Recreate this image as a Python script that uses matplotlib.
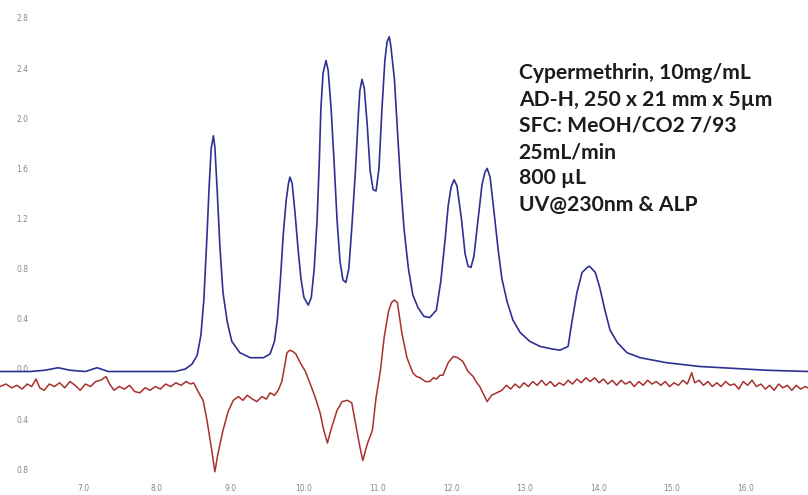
import matplotlib.pyplot as plt

# UV trace (blue), time in min, absorbance
uv_time = [5.87, 6.28, 6.48, 6.66, 6.82, 7.03, 7.19, 7.34, 7.77, 8.25, 8.39, 8.48, 8.55, 8.60,
           8.64, 8.68, 8.71, 8.74, 8.77, 8.79, 8.82, 8.86, 8.90, 8.96, 9.02, 9.13, 9.27, 9.45,
           9.54, 9.60, 9.64, 9.68, 9.72, 9.76, 9.79, 9.81, 9.84, 9.88, 9.92, 9.96, 10.00, 10.06,
           10.10, 10.14, 10.18, 10.21, 10.23, 10.26, 10.30, 10.33, 10.37, 10.41, 10.45, 10.49,
           10.53, 10.57, 10.61, 10.65, 10.70, 10.74, 10.76, 10.79, 10.82, 10.86, 10.90, 10.94,
           10.98, 11.02, 11.06, 11.10, 11.13, 11.16, 11.18, 11.23, 11.27, 11.31, 11.36, 11.42,
           11.48, 11.55, 11.63, 11.71, 11.80, 11.86, 11.92, 11.96, 12.00, 12.04, 12.08, 12.14,
           12.19, 12.23, 12.27, 12.31, 12.37, 12.42, 12.46, 12.49, 12.53, 12.58, 12.64, 12.69,
           12.76, 12.84, 12.94, 13.07, 13.21, 13.37, 13.48, 13.59, 13.64, 13.71, 13.78, 13.85,
           13.88, 13.96, 14.02, 14.09, 14.16, 14.26, 14.39, 14.57, 14.93, 15.38, 16.29, 16.85]
uv_abs = [-0.02, -0.02, -0.01, 0.01, -0.01, -0.02, 0.01, -0.02, -0.02, -0.02, 0.00, 0.04, 0.11, 0.27,
          0.55, 1.03, 1.43, 1.76, 1.86, 1.77, 1.44, 0.96, 0.61, 0.37, 0.22, 0.13, 0.09, 0.09,
          0.12, 0.22, 0.40, 0.71, 1.08, 1.35, 1.48, 1.53, 1.48, 1.24, 0.96, 0.72, 0.57, 0.51,
          0.57, 0.80, 1.20, 1.67, 2.07, 2.36, 2.46, 2.38, 2.07, 1.65, 1.19, 0.86,
          0.71, 0.69, 0.80, 1.12, 1.58, 2.03, 2.22, 2.31, 2.24, 1.95, 1.58, 1.43,
          1.42, 1.60, 2.07, 2.46, 2.61, 2.65, 2.58, 2.31, 1.91, 1.52, 1.12, 0.80,
          0.59, 0.49, 0.42, 0.41, 0.47, 0.70, 1.04, 1.30, 1.45, 1.51, 1.46, 1.20,
          0.92, 0.82, 0.81, 0.90, 1.21, 1.47, 1.57, 1.60, 1.53, 1.27, 0.95, 0.72,
          0.54, 0.39, 0.29, 0.22, 0.18, 0.16, 0.15, 0.18, 0.37, 0.61, 0.77, 0.81,
          0.82, 0.77, 0.65, 0.47, 0.31, 0.21, 0.13, 0.09, 0.05, 0.02, -0.01, -0.02]

# ALP trace (red)
alp_time = [5.87, 5.95, 6.03, 6.10, 6.17, 6.24, 6.30, 6.36, 6.41, 6.47, 6.54, 6.61, 6.68, 6.75,
            6.82, 6.89, 6.96, 7.03, 7.10, 7.17, 7.24, 7.31, 7.36, 7.42, 7.49, 7.56, 7.63, 7.70,
            7.77, 7.84, 7.91, 7.98, 8.05, 8.12, 8.19, 8.26, 8.33, 8.40, 8.46, 8.50,
            8.59, 8.63, 8.68, 8.74, 8.79, 8.83, 8.90, 8.97, 9.04, 9.11, 9.17, 9.23, 9.30, 9.36,
            9.43, 9.49, 9.54, 9.60, 9.65, 9.70, 9.77, 9.81, 9.85, 9.89, 9.95, 10.02, 10.08, 10.15,
            10.22, 10.27, 10.32, 10.37, 10.45, 10.52, 10.59, 10.65, 10.72, 10.76, 10.80, 10.86,
            10.93, 10.98, 11.04, 11.09, 11.15, 11.19, 11.23, 11.27, 11.33, 11.40, 11.48, 11.53,
            11.58, 11.65, 11.71, 11.76, 11.80, 11.85, 11.89, 11.96, 12.03, 12.09, 12.16, 12.23,
            12.30, 12.35, 12.39, 12.44, 12.49, 12.55, 12.62,
            12.69, 12.75, 12.81, 12.87, 12.93, 12.99, 13.05, 13.11, 13.17, 13.23, 13.29, 13.35,
            13.41, 13.47, 13.53, 13.59, 13.65, 13.71, 13.77, 13.83, 13.89, 13.95, 14.01, 14.07,
            14.13, 14.19, 14.25, 14.31, 14.37, 14.43, 14.49, 14.55, 14.61, 14.67, 14.73, 14.79,
            14.85, 14.91, 14.97, 15.03, 15.09, 15.15, 15.21, 15.27, 15.31, 15.37, 15.43, 15.49,
            15.55, 15.61, 15.67, 15.73, 15.79, 15.85, 15.91, 15.97, 16.03, 16.09, 16.15, 16.21,
            16.27, 16.33, 16.39, 16.45, 16.51, 16.57, 16.63, 16.69, 16.75, 16.81, 16.85]
alp_abs = [-0.14, -0.12, -0.15, -0.13, -0.16, -0.12, -0.14, -0.08, -0.15, -0.17, -0.12, -0.14, -0.11, -0.15,
           -0.10, -0.13, -0.17, -0.12, -0.14, -0.10, -0.09, -0.06, -0.12, -0.17, -0.14, -0.16, -0.13, -0.18,
           -0.19, -0.15, -0.17, -0.14, -0.16, -0.12, -0.14, -0.11, -0.13, -0.10, -0.12, -0.11,
           -0.21, -0.25, -0.40, -0.62, -0.82, -0.68, -0.49, -0.34, -0.25, -0.22, -0.25, -0.21, -0.24, -0.26,
           -0.22, -0.24, -0.19, -0.21, -0.17, -0.10, 0.13, 0.15, 0.14, 0.12, 0.05, -0.02, -0.11, -0.22,
           -0.35, -0.49, -0.59, -0.48, -0.33, -0.26, -0.25, -0.27, -0.49, -0.62, -0.73, -0.60,
           -0.49, -0.23, -0.01, 0.25, 0.46, 0.53, 0.55, 0.53, 0.29, 0.09, -0.03, -0.06,
           -0.07, -0.10, -0.10, -0.07, -0.08, -0.05, -0.05, 0.05, 0.10, 0.09, 0.06, -0.02,
           -0.06, -0.11, -0.14, -0.20, -0.26, -0.21, -0.19,
           -0.17, -0.13, -0.16, -0.12, -0.15, -0.11, -0.14, -0.10, -0.13, -0.09, -0.13, -0.10,
           -0.14, -0.11, -0.13, -0.09, -0.12, -0.08, -0.11, -0.07, -0.10, -0.07, -0.11, -0.08,
           -0.12, -0.09, -0.13, -0.09, -0.12, -0.10, -0.14, -0.10, -0.13, -0.09, -0.12, -0.10,
           -0.13, -0.10, -0.14, -0.11, -0.13, -0.09, -0.12, -0.03, -0.11, -0.09, -0.13, -0.10,
           -0.14, -0.11, -0.14, -0.10, -0.13, -0.12, -0.16, -0.10, -0.13, -0.09, -0.14, -0.12,
           -0.16, -0.13, -0.17, -0.12, -0.15, -0.13, -0.17, -0.13, -0.16, -0.14, -0.15]

x_ticks = [7.0, 8.0, 9.0, 10.0, 11.0, 12.0, 13.0, 14.0, 15.0, 16.0]
x_labels = ["7.0", "8.0", "9.0", "10.0", "11.0", "12.0", "13.0", "14.0", "15.0", "16.0"]
y_ticks = [2.8, 2.4, 2.0, 1.6, 1.2, 0.8, 0.4, 0.0, -0.4, -0.8]
y_labels = ["2.8", "2.4", "2.0", "1.6", "1.2", "0.8", "0.4", "0.0", "0.4", "0.8"]

info = ["Cypermethrin, 10mg/mL",
        "AD-H, 250 x 21 mm x 5\u00b5m",
        "SFC: MeOH/CO2 7/93",
        "25mL/min",
        "800 \u00b5L",
        "UV@230nm & ALP"]

fig = plt.figure(figsize=(8.08, 4.95), dpi=100)
ax = fig.add_axes([0, 0, 1, 1])

ax.plot(uv_time, uv_abs, color="#2e3192", lw=1.2)
ax.plot(alp_time, alp_abs, color="#a8302e", lw=1.1)

ax.set_xlim(5.87, 16.85)
ax.set_ylim(-1.005, 2.943)

ax.set_xticks(x_ticks, x_labels)
ax.set_yticks(y_ticks, y_labels)
ax.tick_params(axis="both", length=0, labelsize=5.5, labelcolor="#888888")
ax.tick_params(axis="x", pad=-8)
ax.tick_params(axis="y", pad=-12)
for lab in ax.get_yticklabels():
    lab.set_horizontalalignment("left")
for s in ax.spines.values():
    s.set_visible(False)

ax.text(0.642, 0.872, "\n".join(info), transform=ax.transAxes, fontsize=15.2,
        family="Lato", fontweight="bold", color="#1c1c1c", va="top", ha="left",
        linespacing=1.39)

fig.savefig("out.png", dpi=100)
